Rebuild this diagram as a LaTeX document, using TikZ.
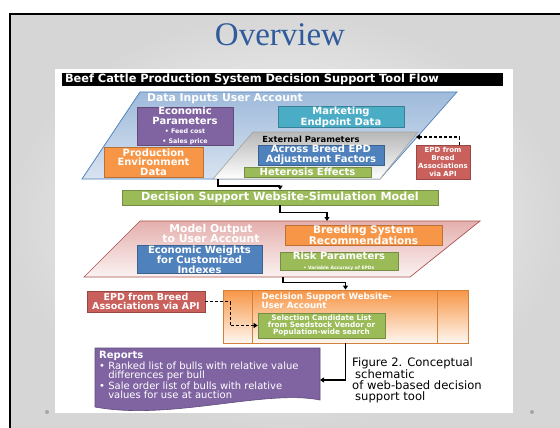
\documentclass[tikz,border=0pt]{standalone}
\usepackage{fontspec}
\setsansfont{DejaVu Sans}
\newfontfamily\titlefont{Liberation Serif}
\usetikzlibrary{arrows.meta,positioning,calc}
\definecolor{TitleBlue}{HTML}{2F5B9C}
\definecolor{AccPurple}{HTML}{8064A2}
\definecolor{AccTeal}{HTML}{4BACC6}
\definecolor{AccOrange}{HTML}{F79646}
\definecolor{AccBlue}{HTML}{4F81BD}
\definecolor{AccGreen}{HTML}{9BBB59}
\definecolor{AccRed}{HTML}{C9605C}
\newcommand{\pxfont}[2]{\fontsize{#1}{#2}\selectfont}

\begin{document}
\begin{tikzpicture}[x=1pt,y=-1pt,
    box/.style={draw=#1!75!black,fill=#1,text=white,inner sep=0pt,align=center,line width=.6pt,font=\sffamily\bfseries\pxfont{10}{9.6}},
    flow/.style={line width=1.6pt,-{Triangle[length=4pt,width=5pt]}},
    dflow/.style={line width=1.4pt,dash pattern=on 3pt off 2pt,-{Triangle[length=4pt,width=5pt]}},
    ontint/.style={text=white,align=center,font=\sffamily\bfseries\pxfont{10.8}{10.5}}]
  \useasboundingbox (0,0) rectangle (560,428);
  % slide
  \fill[white] (0,0) rectangle (560,428);
  \shade[inner color=white,outer color=black!16] (10,14) rectangle (560,428);
  \draw[line width=2.2pt] (10,428) -- (10,14) -- (560,14);
  \fill[white] (55,69) rectangle (513,413);
  \fill[black!35] (47,412) circle (2) (532,412) circle (2);
  \node[font=\titlefont\pxfont{33}{33},text=TitleBlue] (title) at (280,35) {Overview};
  \node[fill=black,text=white,minimum width=441pt,minimum height=13pt,inner sep=0pt,text width=435pt,align=left,
        font=\sffamily\bfseries\pxfont{11.4}{11.4}] (hdr) at (282.5,79.5) {Beef Cattle Production System Decision Support Tool Flow};

  % data inputs
  \draw[draw=AccBlue,line width=.7pt,top color=AccBlue!55,bottom color=AccBlue!22] (140,92) -- (457,92) -- (380,179) -- (82,179) -- cycle;
  \node[ontint] (intitle) at (225,99) {Data Inputs User Account};
  \node[box=AccPurple,minimum width=96pt,minimum height=36pt] (econ) at (185,126)
    {Economic\\Parameters\\\pxfont{6.3}{6.8}\textbullet{} Feed cost\\\pxfont{6.3}{6.8}\textbullet{} Sales price};
  \node[box=AccTeal,minimum width=126pt,minimum height=20pt] (mkt) at (341,117) {Marketing\\Endpoint Data};
  \node[box=AccOrange,minimum width=99pt,minimum height=30pt] (prod) at (153.5,162) {Production\\Environment\\Data};
  \draw[draw=black!35,line width=.7pt,top color=black!28,bottom color=white] (253,132) -- (418,132) -- (380,179) -- (213,179) -- cycle;
  \node[font=\sffamily\bfseries\pxfont{8.4}{8.4}] (exttitle) at (311,139) {External Parameters};
  \node[box=AccBlue,minimum width=126pt,minimum height=20pt] (across) at (321,155) {Across Breed EPD\\Adjustment Factors};
  \node[box=AccGreen,minimum width=127pt,minimum height=10pt] (hetero) at (307.5,172) {Heterosis Effects};
  \node[box=AccRed,minimum width=54pt,minimum height=34pt,font=\sffamily\bfseries\pxfont{7}{7.8}] (epdtop) at (443,162)
    {EPD from\\Breed\\Associations\\via API};
  \coordinate (extin) at (416,137);
  \coordinate (extout) at (218,179);
  \draw[dflow] ([xshift=-11pt]epdtop.north east) |- (extin);

  % simulation
  \node[box=AccGreen,minimum width=316pt,minimum height=15pt,font=\sffamily\bfseries\pxfont{11.2}{11.2}] (sim) at (280,197.5)
    {Decision Support Website-Simulation Model};
  \draw[flow] (extout) -- ++(0,7) -| (sim.north);

  % model output
  \draw[draw=AccRed!85!black,line width=.7pt,top color=AccRed!50,bottom color=AccRed!8] (140,221) -- (480,221) -- (410,277) -- (84,277) -- cycle;
  \coordinate (outin) at (327,221);
  \coordinate (outout) at (283,277);
  \draw[flow] (sim.south) -- ++(0,7) -| (outin);
  \node[ontint] (outtitle) at (211,233.5) {Model Output\\to User Account};
  \node[box=AccOrange,minimum width=157pt,minimum height=20pt,font=\sffamily\bfseries\pxfont{10.5}{10}] (breed) at (363.5,235)
    {Breeding System\\Recommendations};
  \node[box=AccBlue,minimum width=125pt,minimum height=27pt] (weights) at (199.5,259.5)
    {Economic Weights\\for Customized\\Indexes};
  \node[box=AccGreen,minimum width=118pt,minimum height=18pt] (risk) at (339,261)
    {Risk Parameters\\\pxfont{4.5}{5}\textbullet{} Variable Accuracy of EPDs};

  % user account
  \node[draw=AccOrange!85!black,line width=.8pt,top color=AccOrange,bottom color=AccOrange!8,
        minimum width=245pt,minimum height=53pt,inner sep=0pt] (panel) at (345.5,316.5) {};
  \draw[AccOrange!85!black,line width=.8pt] ([xshift=30pt]panel.north west) -- ([xshift=30pt]panel.south west)
    ([xshift=-31pt]panel.north east) -- ([xshift=-31pt]panel.south east);
  \draw[flow] (outout) -- ++(0,5.5) -| (panel.north);
  \node[anchor=west,text=white,align=left,font=\sffamily\bfseries\pxfont{8.7}{8.5}] (paneltitle) at (258,301)
    {Decision Support Website-\\User Account};
  \node[box=AccGreen,minimum width=127pt,minimum height=25pt,font=\sffamily\bfseries\pxfont{7.3}{7.4}] (select) at (321.5,325.5)
    {Selection Candidate List\\from Seedstock Vendor or\\Population-wide search};
  \node[box=AccRed,minimum width=118pt,minimum height=21pt,font=\sffamily\bfseries\pxfont{9.5}{9.5}] (epdleft) at (146,301.5)
    {EPD from Breed\\Associations via API};
  \draw[dflow] (epdleft.east) -- ++(25,0) |- (select.west);

  % reports
  \draw[fill=AccPurple,draw=AccPurple!75!black,line width=.6pt] (95,348) -- (320,348) -- (320,400)
    .. controls (265,389) and (170,421) .. (95,407) -- cycle;
  \node[anchor=north west,text=white,align=left,inner sep=0pt,font=\sffamily\pxfont{10}{9.3}] (reports) at (99,351)
    {\textbf{Reports}\\\textbullet{} Ranked list of bulls with relative value\\\hphantom{\textbullet{} }differences per bull\\
     \textbullet{} Sale order list of bulls with relative\\\hphantom{\textbullet{} }values for use at auction};
  \coordinate (repin) at (320,380);
  \draw[flow] (panel.south) |- (repin);
  \node[anchor=north west,align=left,inner sep=0pt,font=\sffamily\pxfont{11.6}{11}] (caption) at (352,357)
    {Figure 2. Conceptual\\\hspace*{3pt}schematic\\of web-based decision\\\hspace*{3pt}support tool};
\end{tikzpicture}
\end{document}
